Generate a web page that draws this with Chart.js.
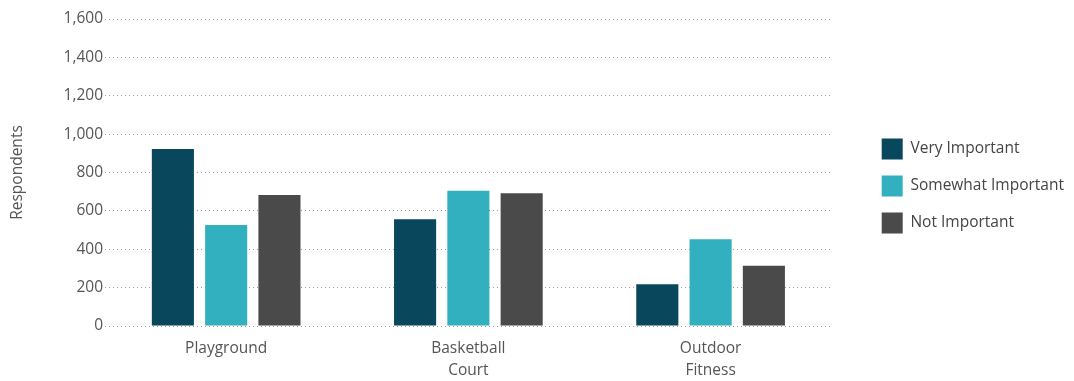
<!DOCTYPE html>
<html><head><meta charset="utf-8">
<script src="https://cdn.jsdelivr.net/npm/chart.js@4/dist/chart.umd.min.js"></script>
<style>html,body{margin:0;padding:0;background:#fff}#wrap{width:1074px;height:381px;position:relative}</style>
</head><body><div id="wrap"><canvas id="c"></canvas></div>
<script>
const categories = ["Playground", ["Basketball","Court"], ["Outdoor","Fitness"]];
const veryImportant = [922, 556, 217];
const somewhatImportant = [526, 705, 452];
const notImportant = [683, 692, 314];
const yTicks = [0,200,400,600,800,1000,1200,1400,1600];
const seriesNames = ["Very Important","Somewhat Important","Not Important"];
const colors = ["#08475c","#33b0bf","#4a4a4a"];
const FONT = "'Open Sans', sans-serif";
new Chart(document.getElementById('c'), {
  type: 'bar',
  data: {
    labels: categories,
    datasets: [veryImportant, somewhatImportant, notImportant].map((d,i)=>({
      label: seriesNames[i], data: d, backgroundColor: colors[i],
      xAxisID: 'x', yAxisID: 'y',
      categoryPercentage: 0.66, barPercentage: 0.79
    }))
  },
  options: {
    responsive: true, maintainAspectRatio: false, animation: false,
    layout: { padding: { top: -9, bottom: 0, left: 4, right: 0 } },
    plugins: {
      tooltip: { enabled: false },
      legend: {
        position: 'right', maxWidth: 400,
        labels: { boxWidth: 21, boxHeight: 21, padding: 16, color: '#444', font: { family: FONT, size: 15.5 } }
      }
    },
    scales: {
      x: {
        grid: { display: false, drawTicks: false },
        border: { display: false },
        ticks: { color: '#555', font: { family: FONT, size: 15.5, lineHeight: 1.42 }, padding: 12 },
        afterFit: s => { s.height = 55; }
      },
      xTop: {
        type: 'linear', position: 'top', display: true,
        grid: { display: false, drawTicks: false }, border: { display: false },
        ticks: { display: false },
        afterFit: s => { s.height = 28; }
      },
      yRight: {
        type: 'linear', position: 'right', display: true,
        grid: { display: false, drawTicks: false }, border: { display: false },
        ticks: { display: false },
        afterFit: s => { s.width = 34; }
      },
      y: {
        min: 0, max: 1600,
        afterBuildTicks: s => { s.ticks = yTicks.map(v => ({ value: v })); },
        border: { display: false, dash: [1, 3] },
        grid: { color: '#9a9a9a', lineWidth: 1, drawTicks: false },
        ticks: { color: '#555', font: { family: FONT, size: 15.5 }, padding: 2,
                 callback: v => v.toLocaleString('en-US') },
        title: { display: true, text: 'Respondents', color: '#555', font: { family: FONT, size: 15.5 }, padding: { bottom: 35 } }
      }
    }
  }
});
</script></body></html>
